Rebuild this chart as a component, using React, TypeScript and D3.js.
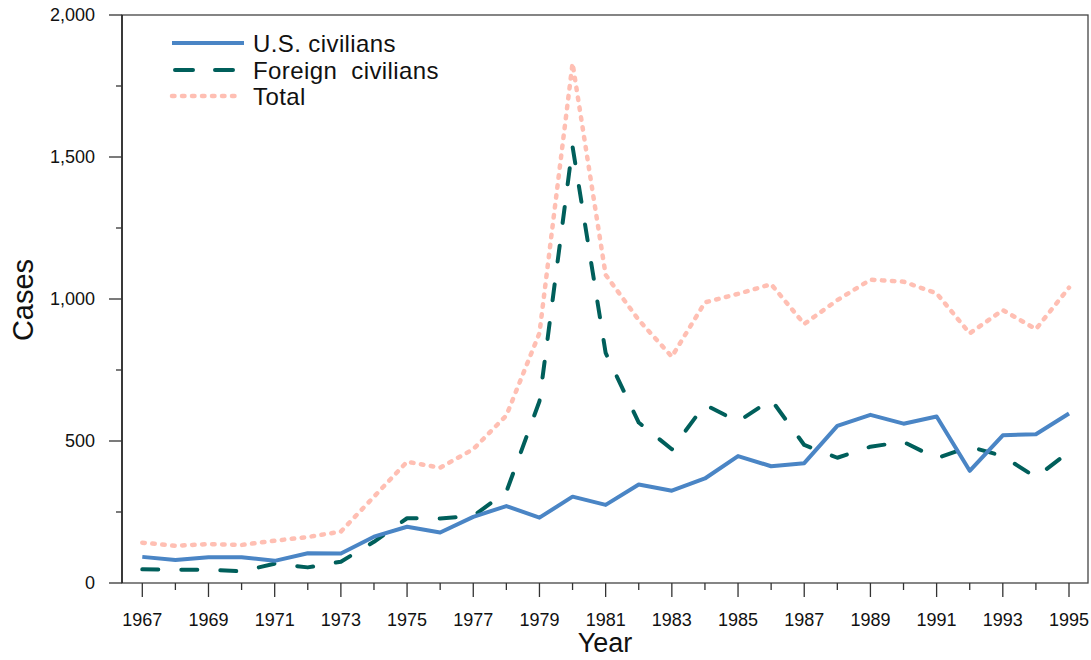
import * as d3 from "d3";

const years = [
  1967, 1968, 1969, 1970, 1971, 1972, 1973, 1974, 1975, 1976, 1977, 1978, 1979, 1980, 1981,
  1982, 1983, 1984, 1985, 1986, 1987, 1988, 1989, 1990, 1991, 1992, 1993, 1994, 1995,
];
const usCivilians = [
  92, 81, 91, 91, 78, 105, 104, 163, 198, 178, 233, 271, 230, 304, 275, 347, 325, 368, 447, 411,
  422, 553, 592, 561, 586, 395, 520, 524, 597,
];
const foreignCivilians = [
  48, 47, 47, 41, 68, 55, 75, 145, 228, 227, 236, 321, 640, 1537, 810, 565, 471, 628, 568, 646,
  486, 441, 480, 497, 439, 480, 447, 372, 462,
];
const total = [
  142, 131, 137, 134, 149, 162, 181, 304, 427, 406, 471, 590, 880, 1830, 1085, 926, 797, 988,
  1018, 1052, 912, 996, 1068, 1061, 1020, 879, 961, 894, 1040,
];
const yMajorTicks = [0, 500, 1000, 1500, 2000];
const yMinorTicks = [250, 750, 1250, 1750];

const W = 1091;
const H = 660;
const frame = { left: 122, right: 1088, top: 15, bottom: 583 };
const font = "'Liberation Sans', Arial, Helvetica, sans-serif";

const series = [
  { name: "U.S.\u00a0civilians", values: usCivilians, color: "#4a85c5", dash: "", width: 4 },
  { name: "Foreign\u00a0\u00a0civilians", values: foreignCivilians, color: "#005f5b", dash: "16 23", width: 4 },
  { name: "Total", values: total, color: "#ffbfb3", dash: "2.5 7.5", width: 4.5 },
];

export default function App() {
  const x = d3.scaleLinear().domain([1967, 1995]).range([142.3, 1069]);
  const y = d3.scaleLinear().domain([0, 2000]).range([frame.bottom, frame.top]);
  const line = d3
    .line<number>()
    .x((_, i) => x(years[i]))
    .y((d) => y(d));
  const fmt = d3.format(",");

  return (
    <svg
      width={W}
      height={H}
      style={{ position: "absolute", left: 0, top: 0, background: "#fff" }}
      fontFamily={font}
    >
      {/* frame */}
      <rect
        x={frame.left}
        y={frame.top}
        width={frame.right - frame.left}
        height={frame.bottom - frame.top}
        fill="none"
        stroke="#444"
        strokeWidth={1.3}
      />
      <line x1={frame.left} x2={frame.left} y1={frame.top} y2={frame.bottom} stroke="#111" strokeWidth={1.3} />

      {/* y ticks */}
      {yMajorTicks.map((t) => (
        <g key={t}>
          <line x1={109} x2={frame.left} y1={y(t)} y2={y(t)} stroke="#333" strokeWidth={1.3} />
          <text x={95} y={y(t)} dy="0.36em" textAnchor="end" fontSize={18} fill="#111">
            {fmt(t)}
          </text>
        </g>
      ))}
      {yMinorTicks.map((t) => (
        <line key={t} x1={116} x2={frame.left} y1={y(t)} y2={y(t)} stroke="#333" strokeWidth={1.3} />
      ))}

      {/* x ticks */}
      {years.map((yr) => {
        const major = yr % 2 === 1;
        return (
          <g key={yr}>
            <line
              x1={x(yr)}
              x2={x(yr)}
              y1={frame.bottom}
              y2={major ? 597 : 590}
              stroke="#333"
              strokeWidth={1.3}
            />
            {major && (
              <text x={x(yr)} y={626} textAnchor="middle" fontSize={18} fill="#111">
                {yr}
              </text>
            )}
          </g>
        );
      })}

      {/* axis titles */}
      <text x={605} y={652} textAnchor="middle" fontSize={27} fill="#111">
        Year
      </text>
      <text
        transform={`translate(33,300) rotate(-90)`}
        textAnchor="middle"
        fontSize={29}
        fill="#111"
      >
        Cases
      </text>

      {/* lines */}
      {[...series].reverse().map((s) => (
        <path
          key={s.name}
          d={line(s.values) ?? ""}
          fill="none"
          stroke={s.color}
          strokeWidth={s.width}
          strokeDasharray={s.dash || undefined}
          strokeLinecap={s.dash ? "round" : "butt"}
          strokeLinejoin="round"
        />
      ))}

      {/* legend */}
      {series.map((s, i) => {
        const ly = [43, 70, 96][i];
        return (
          <g key={s.name}>
            <line
              x1={i === 1 ? 175 : 172}
              x2={i === 1 ? 233 : i === 2 ? 240 : 244}
              y1={ly}
              y2={ly}
              stroke={s.color}
              strokeWidth={s.width}
              strokeDasharray={i === 1 ? "18 22" : s.dash || undefined}
              strokeLinecap={s.dash ? "round" : "butt"}
            />
            <text x={253} y={ly} dy="0.36em" fontSize={24} fill="#111" letterSpacing={0.4}>
              {s.name}
            </text>
          </g>
        );
      })}
    </svg>
  );
}
